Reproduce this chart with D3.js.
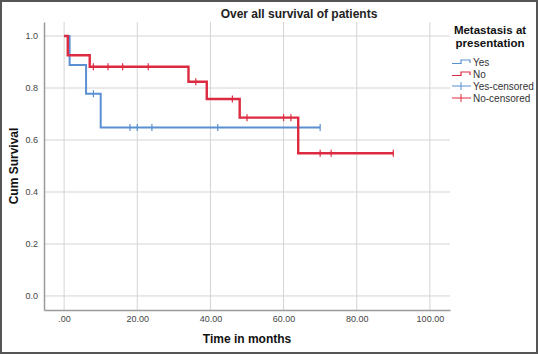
<!DOCTYPE html>
<html>
<head>
<meta charset="utf-8">
<script src="https://cdn.jsdelivr.net/npm/d3@7"></script>
<style>
  body { margin: 0; background: #fff; }
  svg { display: block; font-family: Arial, "Liberation Sans", sans-serif; }
</style>
</head>
<body>
<svg id="chart"></svg>
<script>
// Kaplan-Meier steps (time in months, cum survival)
const yesTimes = [0, 1.5, 6, 10, 70]
const yesSurv = [1.0, 0.889, 0.778, 0.648, 0.648]
const yesCensored = [8, 18, 20, 24, 42, 70]

const noTimes = [0, 1, 7, 34, 39, 48, 64, 90]
const noSurv = [1.0, 0.926, 0.882, 0.824, 0.758, 0.686, 0.549, 0.549]
const noCensored = [8, 12, 16, 23, 36, 46, 50, 60, 62, 70, 73, 90]

const xTicks = [0, 20, 40, 60, 80, 100]
const yTicks = [0, 0.2, 0.4, 0.6, 0.8, 1.0]
const legendLabels = ['Yes', 'No', 'Yes-censored', 'No-censored']

const blue = '#5a8fd2'
const red = '#dc2a40'

let width = 538,
    height = 354

let $svg = d3.select('#chart')
    .attr('width', width)
    .attr('height', height)

$svg.append('rect')
    .attr('x', 1).attr('y', 1)
    .attr('width', width - 2).attr('height', height - 2)
    .attr('fill', '#fff')
    .attr('stroke', '#555')
    .attr('stroke-width', 2)

let plotLeft = 44, plotRight = 450, plotTop = 22, plotBottom = 310

let scaleX = d3.scaleLinear().domain([-5.5, 105.5]).range([plotLeft, plotRight])
let scaleY = d3.scaleLinear().domain([-0.054, 1.054]).range([plotBottom, plotTop])

// grid
$svg.append('g')
    .selectAll('line')
    .data(yTicks)
    .join('line')
    .attr('x1', plotLeft).attr('x2', plotRight)
    .attr('y1', d => scaleY(d)).attr('y2', d => scaleY(d))
    .attr('stroke', '#d4d4d4')
$svg.append('g')
    .selectAll('line')
    .data(xTicks)
    .join('line')
    .attr('x1', d => scaleX(d)).attr('x2', d => scaleX(d))
    .attr('y1', plotTop).attr('y2', plotBottom)
    .attr('stroke', '#d4d4d4')

// axes
let xAxis = d3.axisBottom(scaleX).tickValues(xTicks).tickSize(0).tickPadding(6)
    .tickFormat(d => d === 0 ? '.00' : d3.format('.2f')(d))
let yAxis = d3.axisLeft(scaleY).tickValues(yTicks).tickSize(0).tickPadding(6)
    .tickFormat(d3.format('.1f'))

let $x = $svg.append('g').attr('transform', 'translate(0,' + plotBottom + ')').call(xAxis)
let $y = $svg.append('g').attr('transform', 'translate(' + plotLeft + ',0)').call(yAxis)
;[$x, $y].forEach($a => {
    $a.select('.domain').attr('stroke', '#9a9a9a').attr('stroke-width', 1.5)
    $a.selectAll('text').attr('fill', '#444').style('font-size', '9px')
})

// curves
let lineFunction = d3.line()
    .x(d => scaleX(d[0]))
    .y(d => scaleY(d[1]))
    .curve(d3.curveStepAfter)

function survivalAt(times, surv, t) {
    let v = surv[0]
    times.forEach((tt, i) => { if (tt <= t) v = surv[i] })
    return v
}

function drawSeries(times, surv, censored, color, strokeWidth) {
    $svg.append('path')
        .attr('d', lineFunction(times.map((t, i) => [t, surv[i]])))
        .attr('fill', 'none')
        .attr('stroke', color)
        .attr('stroke-width', strokeWidth)
    $svg.append('g')
        .selectAll('line')
        .data(censored)
        .join('line')
        .attr('x1', d => scaleX(d)).attr('x2', d => scaleX(d))
        .attr('y1', d => scaleY(survivalAt(times, surv, d)) - 3.5)
        .attr('y2', d => scaleY(survivalAt(times, surv, d)) + 3.5)
        .attr('stroke', color)
        .attr('stroke-width', 1.2)
}

drawSeries(yesTimes, yesSurv, yesCensored, blue, 2)
drawSeries(noTimes, noSurv, noCensored, red, 2.4)

// titles
$svg.append('text')
    .attr('x', 299).attr('y', 18)
    .attr('text-anchor', 'middle')
    .style('font-size', '12px').style('font-weight', 'bold')
    .attr('fill', '#222')
    .text('Over all survival of patients')

$svg.append('text')
    .attr('x', (plotLeft + plotRight) / 2).attr('y', 343)
    .attr('text-anchor', 'middle')
    .style('font-size', '12px').style('font-weight', 'bold')
    .attr('fill', '#111')
    .text('Time in months')

$svg.append('text')
    .attr('transform', 'translate(18,' + (plotTop + plotBottom) / 2 + ') rotate(-90)')
    .attr('text-anchor', 'middle')
    .style('font-size', '12px').style('font-weight', 'bold')
    .attr('fill', '#111')
    .text('Cum Survival')

// legend
let $legend = $svg.append('g')
$legend.append('text')
    .attr('x', 490).attr('y', 34)
    .attr('text-anchor', 'middle')
    .style('font-size', '11.5px').style('font-weight', 'bold')
    .attr('fill', '#111')
    .text('Metastasis at')
$legend.append('text')
    .attr('x', 490).attr('y', 47)
    .attr('text-anchor', 'middle')
    .style('font-size', '11.5px').style('font-weight', 'bold')
    .attr('fill', '#111')
    .text('presentation')

let legendColors = [blue, red, blue, red]
legendLabels.forEach((label, i) => {
    let y = 62 + i * 12
    if (i < 2) {
        $legend.append('path')
            .attr('d', 'M452,' + (y + 1.5) + 'H461V' + (y - 2) + 'H470V' + (y + 1))
            .attr('fill', 'none')
            .attr('stroke', legendColors[i])
            .attr('stroke-width', 1.2)
    } else {
        $legend.append('line')
            .attr('x1', 452).attr('x2', 471).attr('y1', y).attr('y2', y)
            .attr('stroke', legendColors[i]).attr('stroke-width', 1)
        $legend.append('line')
            .attr('x1', 461).attr('x2', 461).attr('y1', y - 4).attr('y2', y + 4)
            .attr('stroke', legendColors[i]).attr('stroke-width', 1)
    }
    $legend.append('text')
        .attr('x', 473).attr('y', y + 3.5)
        .style('font-size', '10px')
        .attr('fill', '#333')
        .text(label)
})
</script>
</body>
</html>
